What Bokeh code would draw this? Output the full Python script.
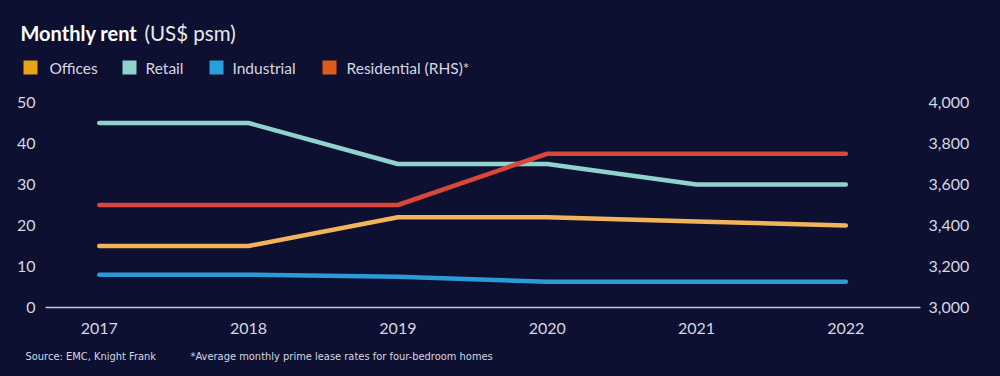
from bokeh.plotting import figure
from bokeh.layouts import column
from bokeh.models import Range1d, LinearAxis, FixedTicker, NumeralTickFormatter
from bokeh.core.properties import value
from bokeh.embed import file_html
from bokeh.resources import INLINE

years = [2017, 2018, 2019, 2020, 2021, 2022]
offices = [15, 15, 22, 22, 21, 20]
retail = [45, 45, 35, 35, 30, 30]
industrial = [8, 8, 7.5, 6.3, 6.3, 6.3]
residential = [3500, 3500, 3500, 3750, 3750, 3750]

series_names = ["Offices", "Retail", "Industrial", "Residential (RHS)*"]
legend_colors = ["#e8a317", "#8fd3cc", "#27a0dc", "#e05a1e"]
line_colors = ["#f2b45a", "#8fd3cc", "#2a9bd6", "#d8473a"]

left_ticks = [0, 10, 20, 30, 40, 50]
right_ticks = [3000, 3200, 3400, 3600, 3800, 4000]

title_bold = "Monthly rent"
title_rest = "(US$ psm)"
source_text = "Source: EMC, Knight Frank"
note_text = "*Average monthly prime lease rates for four-bedroom homes"

BG = "#0d1030"
TXT = "#d6d7e2"
FONT = "Lato"
W = 1000
HEAD_H, MAIN_H = 90, 250
FOOT_H = 376 - HEAD_H - MAIN_H


def blank(h):
    f = figure(width=W, height=h, output_backend="svg", toolbar_location=None,
               x_range=Range1d(0, W), y_range=Range1d(h, 0), min_border=0)
    f.axis.visible = False
    f.grid.visible = False
    f.outline_line_color = None
    f.background_fill_color = BG
    f.border_fill_color = BG
    f.frame_align = False
    return f


# ---- header: title + legend ----
head = blank(HEAD_H)
head.text(x=[20], y=[32], text=[title_bold], text_font=value(FONT), text_font_size="20px",
          text_font_style="bold", text_color="#ffffff", text_baseline="middle")
head.text(x=[144], y=[32], text=[title_rest], text_font=value(FONT), text_font_size="20.5px",
          text_color="#e8e8f0", text_baseline="middle")
sq_x = [23, 122, 209, 322]
tx_x = [49, 145, 232, 346]
head.quad(left=sq_x, right=[v + 14 for v in sq_x], top=[60] * 4, bottom=[74] * 4,
          fill_color=legend_colors, line_color=None)
head.text(x=tx_x, y=[67] * 4, text=series_names, text_font=value(FONT), text_font_size="15.5px",
          text_color=TXT, text_baseline="middle")

# ---- main chart ----
p = figure(width=W, height=MAIN_H, output_backend="svg", toolbar_location=None,
           x_range=Range1d(2016.64, 2022.5), y_range=Range1d(0, 50),
           min_border_left=45, min_border_right=80, min_border_top=12, min_border_bottom=33)
p.background_fill_color = BG
p.border_fill_color = BG
p.outline_line_color = None
p.grid.visible = False
p.frame_align = False
p.extra_y_ranges = {"rhs": Range1d(3000, 4000)}

xa = p.xaxis[0]
xa.ticker = FixedTicker(ticks=years)
xa.major_tick_line_color = None
xa.minor_tick_line_color = None
xa.axis_line_color = "#c9cad8"
xa.axis_line_width = 1.5
xa.major_label_standoff = 9
xa.major_label_text_color = TXT
xa.major_label_text_font = FONT
xa.major_label_text_font_size = "16px"

ya = p.yaxis[0]
ya.ticker = FixedTicker(ticks=left_ticks)
ya.major_tick_line_color = None
ya.minor_tick_line_color = None
ya.axis_line_color = None
ya.major_label_standoff = 4
ya.major_label_text_color = TXT
ya.major_label_text_font = FONT
ya.major_label_text_font_size = "16px"

ra = LinearAxis(y_range_name="rhs", ticker=FixedTicker(ticks=right_ticks),
                formatter=NumeralTickFormatter(format="0,0"))
ra.major_tick_line_color = None
ra.minor_tick_line_color = None
ra.axis_line_color = None
ra.major_label_standoff = 2
ra.major_label_text_color = TXT
ra.major_label_text_font = FONT
ra.major_label_text_font_size = "16px"
p.add_layout(ra, "right")

lw = 4.5
kw = dict(line_width=lw, line_cap="round", line_join="round")
p.line(years, retail, line_color=line_colors[1], **kw)
p.line(years, industrial, line_color=line_colors[2], **kw)
p.line(years, offices, line_color=line_colors[0], **kw)
p.line(years, residential, line_color=line_colors[3], y_range_name="rhs", **kw)

# ---- footer ----
foot = blank(FOOT_H)
foot.text(x=[25, 190], y=[16, 16], text=[source_text, note_text],
          text_font=value("DejaVu Sans Condensed"), text_font_size="11px",
          text_color=TXT, text_baseline="middle")

layout = column(head, p, foot, spacing=0)
layout.styles = {"background-color": BG}
html = file_html(layout, INLINE)
html = html.replace("<head>", "<head><style>html,body{background:%s;margin:0;padding:0;}</style>" % BG, 1)
open("out.html", "w").write(html)
